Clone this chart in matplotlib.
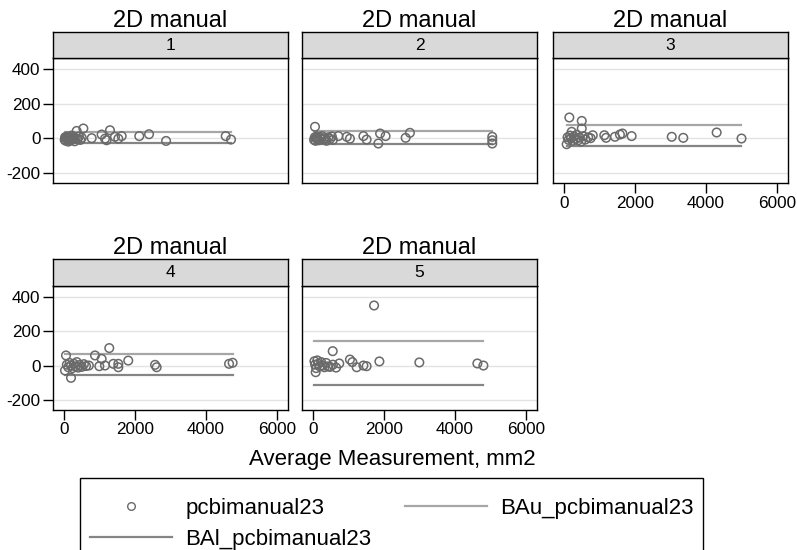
import numpy as np
import matplotlib
matplotlib.use("Agg")
from matplotlib import pyplot as plt
from matplotlib.lines import Line2D
from matplotlib.patches import Rectangle

plt.rcParams['font.family'] = ['Liberation Sans', 'DejaVu Sans']
plt.rcParams['axes.unicode_minus'] = False

# panel ids and the Bland-Altman points (average, difference)
panels = ["1", "2", "3", "4", "5"]

x1 = [20, 30, 50, 60, 80, 100, 120, 140, 160, 180, 200, 220, 250, 280, 300, 330, 357, 380, 420, 460, 500, 545,
      780, 1060, 1295, 1155, 1200, 1435, 1530, 1625, 2120, 2395, 2875, 4555, 4705]
y1 = [-10, 5, -15, 0, 10, -5, -20, 8, -8, 3, -12, 15, -3, 5, -18, 0, 42, -6, 10, -10, 2, 56,
      0, 21, 46, -3, -12, 8, -3, 12, 12, 23, -16, 12, -8]

x2 = [56, 30, 50, 70, 90, 110, 130, 160, 190, 220, 260, 300, 340, 380, 430, 480, 530, 560,
      715, 950, 1040, 1420, 1510, 1840, 1890, 2045, 2610, 2730, 5050, 5050, 5050]
y2 = [66, -10, 5, -15, 0, 10, -5, -12, 8, -3, 12, -8, 0, -15, 5, -5, 10, -10,
      12, 8, -3, 12, -8, -31, 27, 12, 2, 31, 8, -12, -31]

x3 = [150, 500, 75, 500, 215, 100, 130, 170, 200, 240, 280, 320, 360, 400, 440, 480, 540, 600, 680, 750,
      810, 1135, 1185, 1435, 1575, 1645, 1905, 3035, 3360, 4300, 5000]
y3 = [120, 100, -35, 56, 37, 5, -10, 15, 0, -15, 10, -5, 20, -12, 3, -20, 12, -8, 5, 0,
      17, 17, 2, 8, 21, 27, 12, 8, 2, 33, -2]

x4 = [56, 28, 197, 873, 1060, 1275, 80, 120, 160, 200, 240, 280, 320, 360, 400, 440, 500, 560, 620, 700,
      995, 1155, 1390, 1530, 1530, 1810, 2565, 2610, 4650, 4750]
y4 = [59, -29, -72, 59, 39, 102, 5, -10, 15, 0, -15, 10, -5, 20, -12, 3, -8, 8, -3, 0,
      -4, 0, 10, 10, -10, 29, 4, -10, 10, 16]

x5 = [1720, 555, 75, 40, 60, 90, 120, 150, 190, 230, 270, 320, 370, 420, 480, 560, 650, 740,
      1040, 1110, 1230, 1420, 1510, 1870, 2995, 4630, 4800]
y5 = [351, 84, -39, 25, 5, -15, 30, 10, -5, 20, 0, -10, 15, -5, -8, 5, -12, 12,
      35, 20, -10, 0, -4, 24, 18, 12, 0]

xs = [x1, x2, x3, x4, x5]
ys = [y1, y2, y3, y4, y5]

# limits of agreement per panel
ba_upper = [35, 40, 75, 67, 143]
ba_lower = [-27, -35, -45, -53, -112]

yticks = [-200, 0, 200, 400]
xticks = [0, 2000, 4000, 6000]

fig = plt.figure(figsize=(7.97, 5.50), dpi=100)

W, H = 797.0, 550.0
lefts = [53, 302, 553]
rows = [(58, 183, 32), (286, 410, 259)]  # plot top, plot bottom, strip top
pw = 235

pt_col = "#6a6a6a"
up_col = "#a6a6a6"
lo_col = "#858585"

for i, name in enumerate(panels):
    r, c = divmod(i, 3)
    top, bot, stop = rows[r]
    l = lefts[c]
    ax = fig.add_axes([l / W, 1 - bot / H, pw / W, (bot - top) / H])
    sax = fig.add_axes([l / W, 1 - top / H, pw / W, (top - stop) / H])

    x = np.array(xs[i])
    y = np.array(ys[i])
    ax.plot([x.min(), x.max()], [ba_upper[i]] * 2, color=up_col, lw=1.6, zorder=2)
    ax.plot([x.min(), x.max()], [ba_lower[i]] * 2, color=lo_col, lw=1.6, zorder=2)
    ax.scatter(x, y, s=38, facecolors="none", edgecolors=pt_col, linewidths=1.1, zorder=3)

    ax.set_xlim(-310, 6310)
    ax.set_ylim(-260, 465)
    ax.set_yticks(yticks)
    ax.set_xticks(xticks)
    ax.grid(axis="y", color="#e3e3e3", lw=1.0, zorder=0)
    ax.set_axisbelow(True)
    for s in ax.spines.values():
        s.set_linewidth(1.0)
    ax.tick_params(length=7, width=1, labelsize=12.3, pad=2)
    if c != 0:
        ax.tick_params(axis="y", left=False, labelleft=False)
    if i in (0, 1):
        ax.tick_params(axis="x", bottom=False, labelbottom=False)

    sax.set_facecolor("#d9d9d9")
    sax.set_xticks([])
    sax.set_yticks([])
    for s in sax.spines.values():
        s.set_linewidth(1.0)
    sax.text(0.5, 0.5, name, ha="center", va="center", fontsize=12.5, transform=sax.transAxes)
    sax.set_title("2D manual", fontsize=17, pad=1)

fig.text(392 / W, 1 - 459 / H, "Average Measurement, mm2", ha="center", va="center", fontsize=16)

handles = [
    Line2D([], [], ls="none", marker="o", ms=5.5, mfc="none", mec=pt_col, mew=1.0),
    Line2D([], [], color=lo_col, lw=1.6),
    Line2D([], [], color=up_col, lw=1.6),
]
labels = ["pcbimanual23", "BAl_pcbimanual23", "BAu_pcbimanual23"]
leg = fig.legend(handles, labels, ncol=2, loc="upper left",
                 bbox_to_anchor=(80 / W, 1 - 488 / H), borderaxespad=0, fontsize=16,
                 frameon=False,
                 handlelength=3.7, handletextpad=0.6, columnspacing=1.5,
                 labelspacing=0.45, borderpad=0.45)

# legend box, its bottom runs off the image like in the original
fig.patches.append(Rectangle((80 / W, -0.05), 623 / W, (1 - 478 / H) + 0.05,
                             transform=fig.transFigure, fill=False,
                             edgecolor="black", lw=1.0))

fig.savefig("out.png", dpi=100)
